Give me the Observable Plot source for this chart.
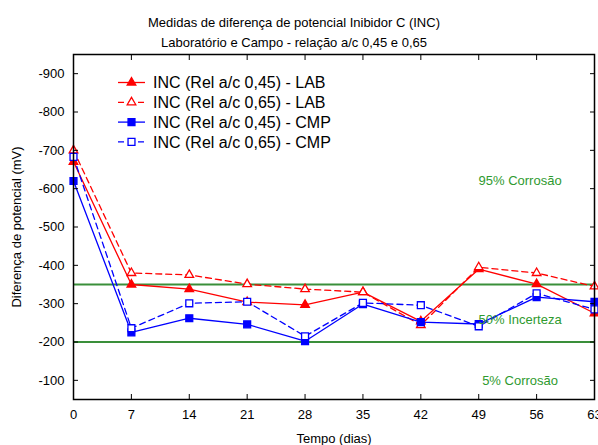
<!DOCTYPE html>
<html>
<head>
<meta charset="utf-8">
<script src="https://cdn.jsdelivr.net/npm/d3@7"></script>
<script src="https://cdn.jsdelivr.net/npm/@observablehq/plot@0.6"></script>
<style>
  body { margin: 0; background: #fff; }
  #chart { width: 598px; height: 445px; }
</style>
</head>
<body>
<div id="chart"></div>
<script>
// Measurement days
const days = [0, 7, 14, 21, 28, 35, 42, 49, 56, 63];

// Potential difference (mV) for each series
const labA = [-670, -350, -338, -304, -297, -330, -254, -390, -351, -275]; // a/c 0,45 - LAB
const labB = [-700, -380, -375, -351, -338, -330, -244, -395, -380, -345]; // a/c 0,65 - LAB
const cmpA = [-620, -225, -262, -246, -202, -299, -252, -247, -317, -305]; // a/c 0,45 - CMP
const cmpB = [-683, -236, -301, -305, -215, -302, -296, -241, -327, -285]; // a/c 0,65 - CMP

const seriesNames = [
  "INC (Rel a/c 0,45) - LAB",
  "INC (Rel a/c 0,65) - LAB",
  "INC (Rel a/c 0,45) - CMP",
  "INC (Rel a/c 0,65) - CMP"
];
const seriesValues = [labA, labB, cmpA, cmpB];

// Corrosion-probability thresholds and zone labels
const thresholds = [-350, -200];
const zoneLabels = ["95% Corrosão", "50% Incerteza", "5% Corrosão"];
const zoneLabelY = [-620, -257, -100];
const zoneLabelX = 54;

// Axis ticks
const xTicks = [0, 7, 14, 21, 28, 35, 42, 49, 56, 63];
const yTicks = [-900, -800, -700, -600, -500, -400, -300, -200, -100];

const titleLines = [
  "Medidas de diferença de potencial Inibidor C (INC)",
  "Laboratório e Campo - relação a/c 0,45 e 0,65"
];

// Series styling
const seriesColor = ["#ff0000", "#ff0000", "#0000ff", "#0000ff"];
const seriesDash = [null, "6,4", null, "6,4"];
const seriesSymbol = ["triangle", "triangle", "square", "square"];
const seriesFilled = [true, false, true, false];
const seriesR = [3.2, 3.2, 3.9, 3.9];
const green = "#3a8f3a";
const greenText = "#2f9a2f";
const font = "'Liberation Sans', Arial, sans-serif";

const rows = seriesNames.flatMap((name, s) =>
  days.map((day, i) => ({series: s, name, day, value: seriesValues[s][i]}))
);

const lineMarks = seriesNames.map((_, s) =>
  Plot.line(rows.filter(d => d.series === s), {
    x: "day", y: "value",
    stroke: seriesColor[s], strokeWidth: 1.3,
    strokeDasharray: seriesDash[s]
  })
);
const dotMarks = seriesNames.map((_, s) =>
  Plot.dot(rows.filter(d => d.series === s), {
    x: "day", y: "value",
    symbol: seriesSymbol[s], r: seriesR[s],
    fill: seriesFilled[s] ? seriesColor[s] : "white",
    stroke: seriesColor[s], strokeWidth: 1.3
  })
);

const blank = () => "";

const svg = Plot.plot({
  width: 598,
  height: 445,
  marginLeft: 73,
  marginRight: 4,
  marginTop: 54,
  marginBottom: 46,
  style: {fontFamily: font, fontSize: "13px", background: "white", color: "black"},
  x: {domain: [0, 63]},
  y: {domain: [-50, -950]},
  marks: [
    Plot.ruleY(thresholds, {stroke: green, strokeWidth: 2}),
    ...lineMarks,
    ...dotMarks,
    Plot.text(zoneLabels, {
      x: () => zoneLabelX, y: (d, i) => zoneLabelY[i], text: d => d,
      fill: greenText, fontSize: 13, textAnchor: "middle"
    }),
    Plot.frame({stroke: "black", strokeWidth: 1.5}),
    // tick labels and axis titles
    Plot.axisY(yTicks, {
      anchor: "left", tickSize: 0, tickPadding: 9, fontSize: 13,
      tickFormat: d => String(d),
      label: "Diferença de potencial (mV)", labelAnchor: "center", labelArrow: "none", labelOffset: 62
    }),
    Plot.axisX(xTicks, {
      anchor: "bottom", tickSize: 0, tickPadding: 10, fontSize: 13,
      tickFormat: d => String(d),
      label: "Tempo (dias)", labelAnchor: "center", labelArrow: "none", labelOffset: 43
    }),
    // inward tick marks on all four sides
    Plot.axisY(yTicks, {anchor: "left", tickSize: 5, dx: 5, tickFormat: blank, label: null}),
    Plot.axisY(yTicks, {anchor: "right", tickSize: 5, dx: -5, tickFormat: blank, label: null}),
    Plot.axisX(xTicks, {anchor: "bottom", tickSize: 5, dy: -5, tickFormat: blank, label: null}),
    Plot.axisX(xTicks, {anchor: "top", tickSize: 5, dy: 5, tickFormat: blank, label: null}),
    // chart title
    Plot.text([titleLines[0]], {text: d => d, frameAnchor: "top", dx: -40, dy: -37, fontSize: 13}),
    Plot.text([titleLines[1]], {text: d => d, frameAnchor: "top", dx: -40, dy: -17, fontSize: 13})
  ]
});

// Legend inside the plot area, upper left
const sel = d3.select(svg);
const legend = sel.append("g")
  .attr("font-family", font)
  .attr("font-size", 16)
  .attr("text-anchor", "start");
seriesNames.forEach((name, s) => {
  const cy = 82.5 + s * 19.8;
  const g = legend.append("g").attr("transform", `translate(0,${cy})`);
  g.append("line")
    .attr("x1", 118).attr("x2", 145).attr("y1", 0).attr("y2", 0)
    .attr("stroke", seriesColor[s]).attr("stroke-width", 1.3)
    .attr("stroke-dasharray", seriesDash[s]);
  const sym = seriesSymbol[s] === "triangle" ? d3.symbolTriangle : d3.symbolSquare;
  g.append("path")
    .attr("transform", "translate(131.5,0)")
    .attr("d", d3.symbol(sym, seriesR[s] * seriesR[s] * Math.PI)())
    .attr("fill", seriesFilled[s] ? seriesColor[s] : "white")
    .attr("stroke", seriesColor[s]).attr("stroke-width", 1.3);
  g.append("text")
    .attr("x", 153).attr("y", 0).attr("dy", "0.35em")
    .attr("text-anchor", "start")
    .attr("fill", "black")
    .text(name);
});

document.getElementById("chart").appendChild(svg);
</script>
</body>
</html>
